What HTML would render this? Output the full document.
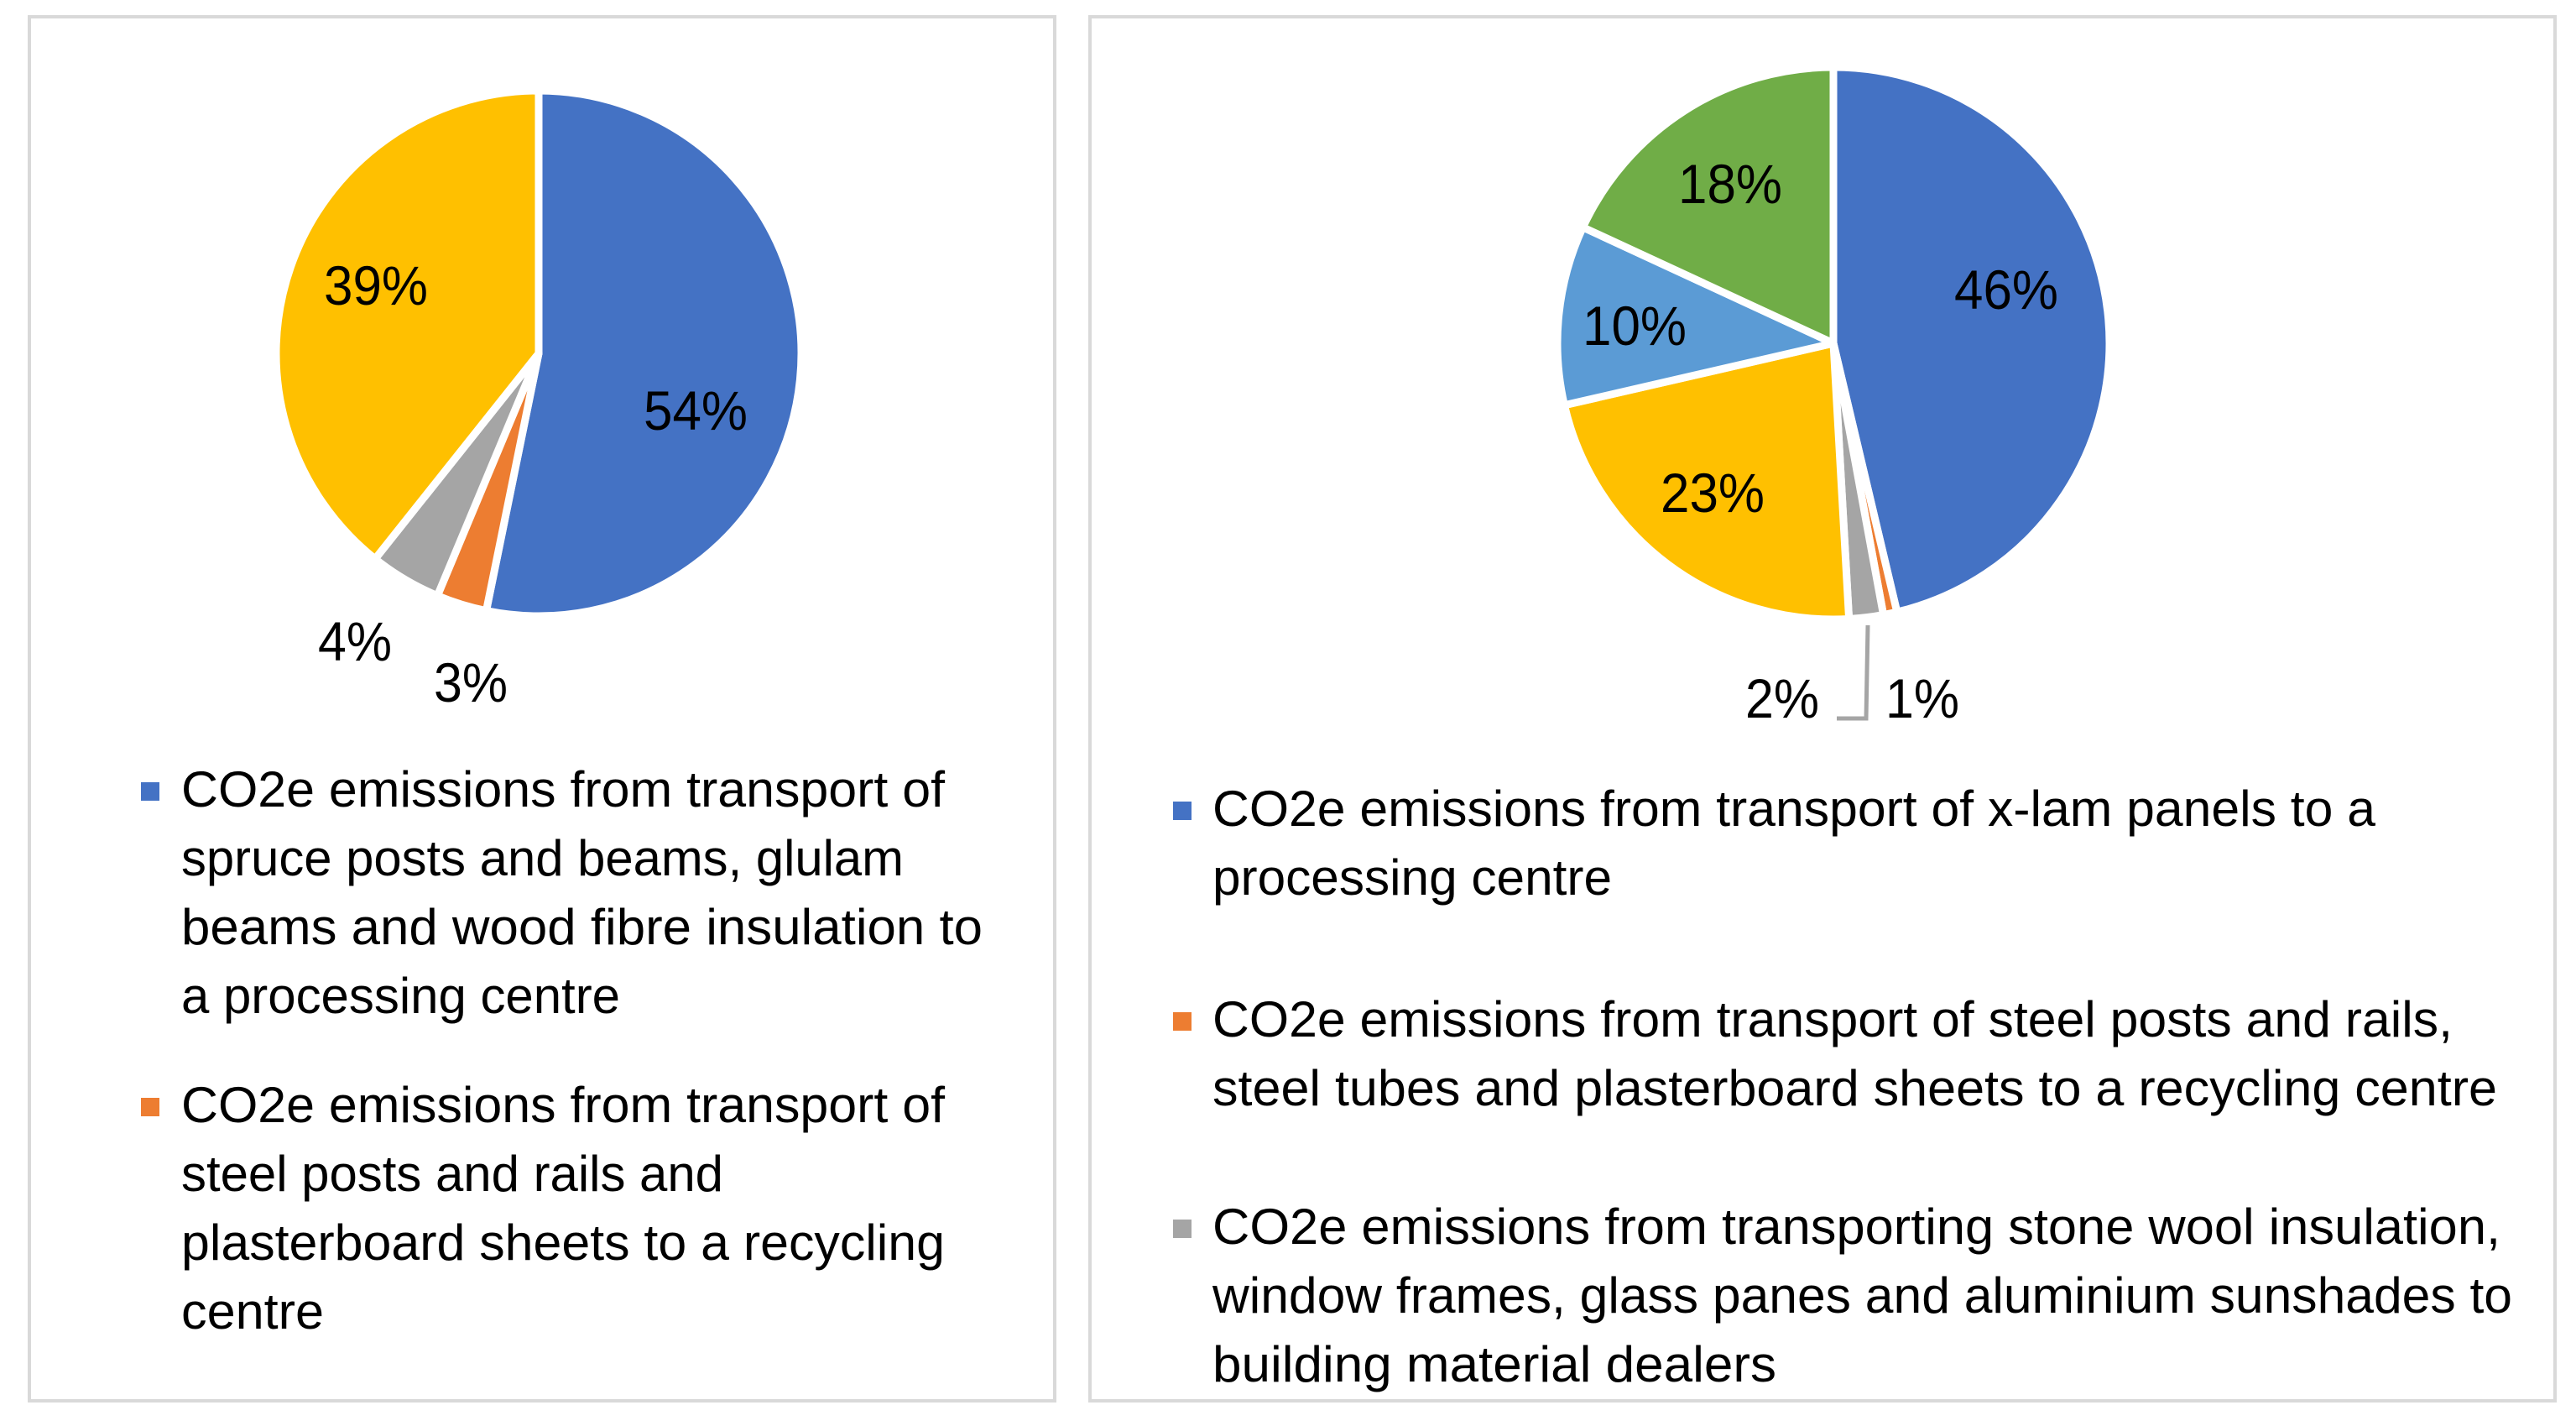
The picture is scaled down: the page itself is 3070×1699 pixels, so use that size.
<!DOCTYPE html>
<html><head><meta charset="utf-8"><style>
html,body{margin:0;padding:0;background:#fff;}
svg{display:block;font-family:"Liberation Sans",sans-serif;}
</style></head><body>
<svg id="c" width="3070" height="1699" viewBox="0 0 3070 1699" xmlns="http://www.w3.org/2000/svg">
<rect x="35" y="20" width="1222" height="1649" fill="#fff" stroke="#d9d9d9" stroke-width="4"/>
<rect x="1299" y="20" width="1746" height="1649" fill="#fff" stroke="#d9d9d9" stroke-width="4"/>
<g id="pies"></g>
<polyline points="2226,745 2224,856 2189,856" fill="none" stroke="#a5a5a5" stroke-width="5"/>
<g id="legends" font-size="60" fill="#000"></g>
</svg>
<script>
const leftCategories = ["transport-to-processing","steel-to-recycling","other","yellow-category"];
const leftValues = [53.2, 3.1, 4.4, 39.3];
const leftLabels = ["54%","3%","4%","39%"];
const leftColors = ["#4472c4","#ed7d31","#a5a5a5","#ffc000"];
const rightCategories = ["x-lam-to-processing","steel-to-recycling","stone-wool-to-dealers","yellow-category","light-blue-category","green-category"];
const rightValues = [46.3, 0.8, 2.0, 22.3, 10.5, 18.1];
const rightLabels = ["46%","1%","2%","23%","10%","18%"];
const rightColors = ["#4472c4","#ed7d31","#a5a5a5","#ffc000","#5b9bd5","#70ad47"];

const NS="http://www.w3.org/2000/svg";
const pies=document.getElementById('pies');
function pt(cx,cy,r,frac){const a=frac*2*Math.PI;return [cx+r*Math.sin(a),cy-r*Math.cos(a)];}
function drawPie(vals,labels,colors,cats,cx,cy,r,labelPos,prefix){
  const total=vals.reduce((a,b)=>a+b,0);let acc=0;
  vals.forEach((v,i)=>{
    const f0=acc/total,f1=(acc+v)/total;acc+=v;
    const p0=pt(cx,cy,r,f0),p1=pt(cx,cy,r,f1);
    const large=(f1-f0)>0.5?1:0;
    const p=document.createElementNS(NS,'path');
    p.setAttribute('d',`M${cx},${cy} L${p0[0]},${p0[1]} A${r},${r} 0 ${large} 1 ${p1[0]},${p1[1]} Z`);
    p.setAttribute('fill',colors[i]);p.setAttribute('stroke','#fff');p.setAttribute('stroke-width','9');p.setAttribute('stroke-linejoin','round');
    
    
    p.setAttribute('id',prefix+'-slice-'+cats[i]);
    pies.appendChild(p);
    let lx,ly;
    if(labelPos[i]){lx=labelPos[i][0];ly=labelPos[i][1];}
    else{const m=pt(cx,cy,r*0.65,(f0+f1)/2);lx=m[0];ly=m[1];}
    const t=document.createElementNS(NS,'text');
    t.setAttribute('x',lx);t.setAttribute('y',ly+24);t.setAttribute('text-anchor','middle');
    t.setAttribute('font-size','66');
    t.setAttribute('textLength',labels[i].length>2?124:88);t.setAttribute('lengthAdjust','spacingAndGlyphs');
    t.textContent=labels[i];
    
    
    pies.appendChild(t);
  });
}
drawPie(leftValues,leftLabels,leftColors,leftCategories,642,421,313,[[829,488],[561,812],[423,763],[448,339]],'left');
drawPie(rightValues,rightLabels,rightColors,rightCategories,2185,409,329,[[2391,344],[2291,831],[2124,831],[2041,586],[1948,387],[2062,218]],'right');

const legendLines=[
 {sq:[168,932],color:"#4472c4",x:216,y:961,lines:[["CO2e emissions from transport of",910],["spruce posts and beams, glulam",861],["beams and wood fibre insulation to",955],["a processing centre",523]]},
 {sq:[168,1308],color:"#ed7d31",x:216,y:1337,lines:[["CO2e emissions from transport of",910],["steel posts and rails and",646],["plasterboard sheets to a recycling",910],["centre",170]]},
 {sq:[1398,955],color:"#4472c4",x:1445,y:984,lines:[["CO2e emissions from transport of x-lam panels to a",1386],["processing centre",476]]},
 {sq:[1398,1206],color:"#ed7d31",x:1445,y:1235,lines:[["CO2e emissions from transport of steel posts and rails,",1478],["steel tubes and plasterboard sheets to a recycling centre",1531]]},
 {sq:[1398,1453],color:"#a5a5a5",x:1445,y:1482,lines:[["CO2e emissions from transporting stone wool insulation,",1535],["window frames, glass panes and aluminium sunshades to",1549],["building material dealers",672]]}
];
const lg=document.getElementById('legends');
legendLines.forEach(e=>{
  const g=document.createElementNS(NS,'g');
  
  
  const s=document.createElementNS(NS,'rect');
  s.setAttribute('x',e.sq[0]);s.setAttribute('y',e.sq[1]);s.setAttribute('width',22);s.setAttribute('height',22);s.setAttribute('fill',e.color);
  
  
  g.appendChild(s);
  e.lines.forEach((l,k)=>{
    const t=document.createElementNS(NS,'text');
    t.setAttribute('x',e.x);t.setAttribute('y',e.y+k*82);
    t.setAttribute('textLength',l[1]);t.setAttribute('lengthAdjust','spacingAndGlyphs');
    t.textContent=l[0];
    
    
    g.appendChild(t);
  });
  lg.appendChild(g);
});
</script>
</body></html>
